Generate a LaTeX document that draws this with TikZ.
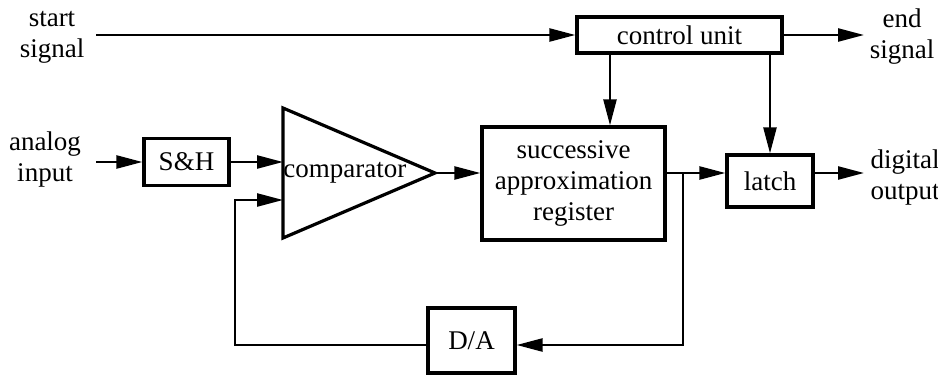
\documentclass[tikz,border=0pt]{standalone}
\usepackage{fontspec}
\setmainfont{Liberation Serif}
\usepackage{tikz}
\usetikzlibrary{positioning,arrows.meta,calc}
\tikzset{
block/.style={
draw,
line width=1.6pt,
inner sep=0pt,
align=center,
font=\fontsize{13.5}{15.5}\selectfont
},
label/.style={
align=center,
inner sep=0pt,
font=\fontsize{13.5}{15.5}\selectfont
},
arrow/.style={
-{Triangle[length=13pt,width=6.5pt]},
line width=1.2pt
}
}

\begin{document}
\begin{tikzpicture}[x=0.5pt,y=-0.5pt]
\useasboundingbox (0,0) rectangle (938,375);
% blocks
\node[block,minimum width=102.5pt,minimum height=18pt] (cu) at (679.5,35) {control unit};
\node[block,minimum width=91.5pt,minimum height=56.5pt] (sar) at (573.5,183.5) {successive\\approximation\\register};
\node[block,minimum width=43pt,minimum height=26pt] (latch) at (770,181) {latch};
\node[block,minimum width=42.5pt,minimum height=23.5pt] (sh) at (186.5,162) {S\&H};
\node[block,minimum width=43.5pt,minimum height=32.5pt] (da) at (471.5,340.5) {D/A};
% comparator
\coordinate (ctop) at (283,108);
\coordinate (cbot) at (283,238);
\coordinate (ctip) at (435,173);
\draw[line width=1.6pt,line join=miter] (ctop) -- (ctip) -- (cbot) -- cycle;
\node[label,anchor=west] (cmp) at (283,173) {comparator};
% labels
\node[label] (start) at (52,37) {start\\signal};
\node[label] (end) at (902,37) {end\\signal};
\node[label] (ain) at (45,160) {analog\\input};
\node[label] (dout) at (905,178) {digital\\output};
% points
\coordinate (sin) at (96,35);
\coordinate (send) at (864,35);
\coordinate (ain0) at (96,162);
\coordinate (cin1) at (283,162);
\coordinate (cin2) at (283,200);
\coordinate (fb) at (235,200);
\coordinate (br) at (683,173);
\coordinate (dend) at (864,173);
\coordinate (cux) at (610,0);
% connectors
\draw[arrow] (sin) -- (cu.west);
\draw[arrow] (cu.east) -- (send);
\draw[arrow] (cu.south -| cux) -- (sar.north -| cux);
\draw[arrow] (cu.south -| latch.north) -- (latch.north);
\draw[arrow] (ain0) -- (sh.west);
\draw[arrow] (sh.east) -- (cin1);
\draw[arrow] (ctip) -- (sar.west |- ctip);
\draw[line width=1.2pt] (sar.east |- br) -- (br);
\draw[arrow] (br) -- (latch.west |- br);
\draw[arrow] (latch.east |- br) -- (dend);
\draw[arrow] (br) |- ($(da.east)+(0,4.5)$);
\draw[arrow] ($(da.west)+(0,4.5)$) -| (fb) -- (cin2);
\end{tikzpicture}
\end{document}
